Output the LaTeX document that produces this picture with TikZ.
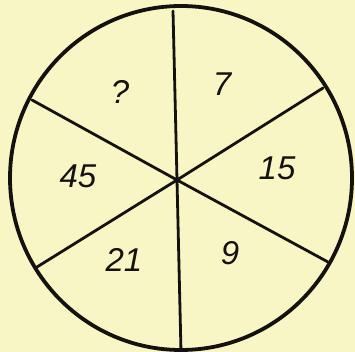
\documentclass[tikz,border=0pt]{standalone}
\usepackage{fontspec}
\setmainfont{Liberation Sans}
\definecolor{paper}{RGB}{248,246,196}
\definecolor{ink}{RGB}{20,18,16}
\begin{document}
\begin{tikzpicture}[x=1pt,y=-1pt,
  rim/.style={draw=ink,line width=3.8pt},
  spoke/.style={draw=ink,line width=2.8pt,line cap=round},
  num/.style={font=\fontsize{33}{33}\itshape\selectfont,text=ink,inner sep=0pt}]
\fill[paper] (0,0) rectangle (355,352);
\useasboundingbox (0,0) rectangle (355,352);
\coordinate (c) at (177,180);
\coordinate (t) at (173,11);
\coordinate (b) at (181,352);
\coordinate (ul) at (32,100);
\coordinate (lr) at (328,262);
\coordinate (ur) at (323,88);
\coordinate (ll) at (37,267);
\draw[rim] (181,178) ellipse [x radius=171, y radius=172];
\draw[spoke] (t) -- (c) -- (b);
\draw[spoke] (ul) -- (c) -- (lr);
\draw[spoke] (ur) -- (c) -- (ll);
\fill[ink] (c) circle (3pt);
\node[num] (q) at (120,92) {?};
\node[num] (n7) at (222,84) {7};
\node[num] (n15) at (277,168) {15};
\node[num] (n9) at (230,253) {9};
\node[num] (n21) at (124,260) {21};
\node[num] (n45) at (78,176) {45};
\end{tikzpicture}
\end{document}
